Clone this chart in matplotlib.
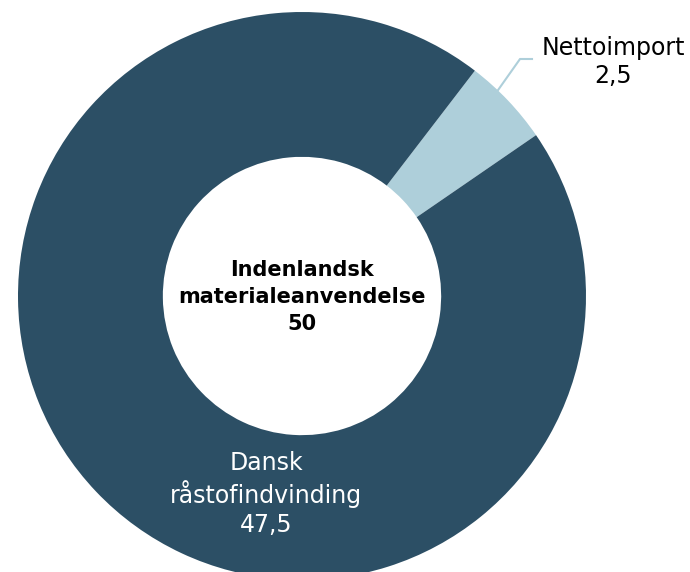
import numpy as np
import matplotlib.pyplot as plt

# materialeforbrug i mio. tons
kategorier = ['Nettoimport', 'Dansk\nråstofindvinding']
vaerdier = [2.5, 47.5]
farver = ['#AECFDA', '#2C4F65']
total = sum(vaerdier)

fig = plt.figure(figsize=(6.9, 5.72), dpi=100)
ax = fig.add_axes([0, 0, 1, 1])

cx, cy, r = 302, 276, 284
wedges, _ = ax.pie(vaerdier, colors=farver, startangle=34.5, counterclock=True,
                   center=(cx, cy), radius=r, frame=True,
                   wedgeprops=dict(width=r * 0.51, edgecolor='none'))
ax.set_xlim(0, 690)
ax.set_ylim(0, 572)
ax.set_aspect('equal')
ax.axis('off')

def fmt(v):
    return ('%g' % v).replace('.', ',')

# midterlabel
ax.text(cx, cy - 1, 'Indenlandsk\nmaterialeanvendelse\n' + fmt(total),
        ha='center', va='center', fontsize=15, fontweight='bold',
        linespacing=1.42, color='black')

# label for dansk indvinding inde i ringen
ax.text(266, 78, kategorier[1] + '\n' + fmt(vaerdier[1]), ha='center', va='center',
        fontsize=17, color='white', linespacing=1.22)

# nettoimport med streg ud til teksten
mid = np.deg2rad(46.4)
x0, y0 = cx + r * np.cos(mid), cy + r * np.sin(mid)
ax.plot([x0, 520, 532], [y0, 513, 513], color=farver[0], lw=1.5, clip_on=False)
ax.text(613, 510, kategorier[0] + '\n' + fmt(vaerdier[0]), ha='center', va='center',
        fontsize=17, color='black', linespacing=1.22)

fig.savefig('out.png', dpi=100)
